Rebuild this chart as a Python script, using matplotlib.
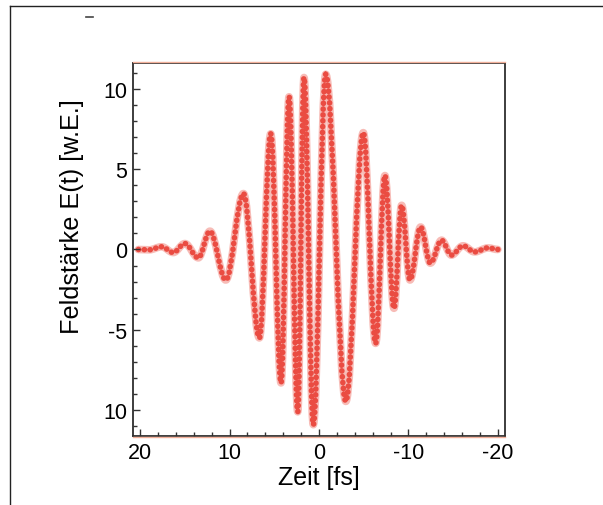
import numpy as np
import matplotlib
matplotlib.use('Agg')
import matplotlib.pyplot as plt
from matplotlib.path import Path
from matplotlib.patches import PathPatch
from matplotlib.lines import Line2D
from matplotlib.ticker import FixedLocator, FixedFormatter, MultipleLocator

plt.rcParams['font.family'] = ['Liberation Sans', 'DejaVu Sans']

# ─── Extrema of the field ─────────────────────────────────────────────────────
zeit_fs = [20.2, 19.0, 17.6, 16.3, 15.0, 13.5, 12.2, 10.43, 8.45, 6.67, 5.4,
           4.25, 3.35, 2.38, 1.68, 0.64, -0.75, -3.0, -4.95, -6.33, -7.37,
           -8.38, -9.24, -10.17, -11.36, -12.45, -13.7, -14.8, -16.1, -17.4,
           -18.9, -20.0]
feld = [0.0, -0.02, 0.17, -0.19, 0.37, -0.52, 1.14, -1.9, 3.48, -5.5, 7.2,
        -8.3, 9.5, -10.1, 10.7, -10.9, 10.9, -9.45, 7.27, -5.84, 4.6,
        -3.66, 2.75, -1.9, 1.4, -0.85, 0.58, -0.35, 0.23, -0.15,
        0.1, 0.0]

xticks = [20, 10, 0, -10, -20]
xticklabels = ["20", "10", "0", "-10", "-20"]
yticks = [10, 5, 0, -5, -10]
yticklabels = ["10", "5", "0", "-5", "10"]

RED = "#e8382e"

fig = plt.figure(figsize=(6.03, 5.06), dpi=100)
ax = fig.add_axes([0.2206, 0.1364, 0.6169, 0.7371])

# smooth curve through the extrema (horizontal tangents), drawn by the library
verts = [(zeit_fs[0], feld[0])]
codes = [Path.MOVETO]
for t0, y0, t1, y1 in zip(zeit_fs[:-1], feld[:-1], zeit_fs[1:], feld[1:]):
    dt = t1 - t0
    verts += [(t0 + 0.36 * dt, y0), (t1 - 0.36 * dt, y1), (t1, y1)]
    codes += [Path.CURVE4] * 3
path = Path(verts, codes)

ax.add_patch(PathPatch(path, fill=False, edgecolor="#f07a70", lw=5.5,
                       alpha=0.5, capstyle="round", joinstyle="round"))
ax.add_patch(PathPatch(path, fill=False, edgecolor=RED, lw=4.0, alpha=0.85,
                       linestyle=(0, (0.05, 1.0)), capstyle="round"))

ax.set_xlim(20.8, -20.8)
ax.set_ylim(-11.6, 11.6)

ax.xaxis.set_major_locator(FixedLocator(xticks))
ax.xaxis.set_major_formatter(FixedFormatter(xticklabels))
ax.yaxis.set_major_locator(FixedLocator(yticks))
ax.yaxis.set_major_formatter(FixedFormatter(yticklabels))
ax.xaxis.set_minor_locator(MultipleLocator(2))
ax.yaxis.set_minor_locator(MultipleLocator(1))
ax.tick_params(which="both", direction="in", color="#333333", width=1.0,
               labelsize=15.5, pad=4)
ax.tick_params(which="major", length=5)
ax.tick_params(which="minor", length=3)
ax.tick_params(axis="x", top=False)
ax.tick_params(axis="y", right=False)

for side in ["left", "right", "top", "bottom"]:
    ax.spines[side].set_color("#2e2e2e")
    ax.spines[side].set_linewidth(1.3)

ax.set_xlabel("Zeit [fs]", fontsize=18, labelpad=2)
ax.set_ylabel("Feldstärke E(t) [w.E.]", fontsize=18.2)
ax.yaxis.set_label_coords(-0.132, 0.592)

# salmon edge along top and bottom spines (scan artefact)
fig.add_artist(Line2D([0.2206, 0.8375], [0.8752, 0.8752], color="#f2b09a", lw=1.0))
fig.add_artist(Line2D([0.2206, 0.8375], [0.1346, 0.1346], color="#f2b09a", lw=1.0))

# page frame and small mark
fig.add_artist(Line2D([10 / 603, 1.0], [1 - 7 / 506, 1 - 7 / 506], color="#222222", lw=1.0))
fig.add_artist(Line2D([10 / 603, 10 / 603], [0.0, 1 - 7 / 506], color="#222222", lw=1.0))
fig.add_artist(Line2D([86 / 603, 93 / 603], [1 - 18 / 506, 1 - 18 / 506], color="#444444", lw=1.2))

plt.savefig("out.png", dpi=100)
plt.close()
